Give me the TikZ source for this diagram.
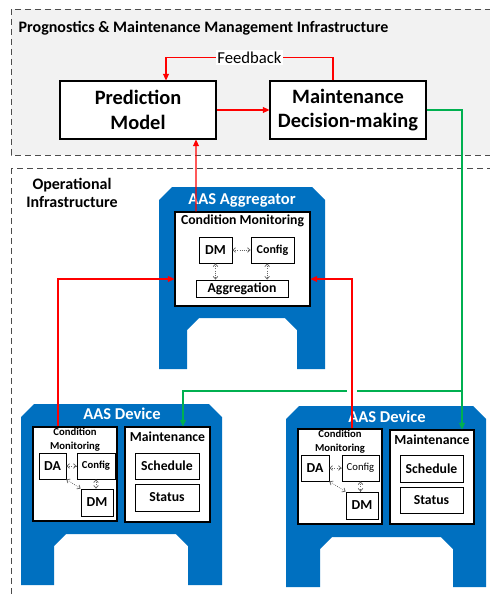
\documentclass[tikz,border=0pt]{standalone}
\usepackage{fontspec}
\setmainfont{Carlito}
\usetikzlibrary{arrows.meta, positioning}
\definecolor{aasblue}{RGB}{0,112,192}
\definecolor{fbred}{RGB}{255,0,0}
\definecolor{ctlgreen}{RGB}{0,176,80}
\definecolor{infragray}{RGB}{242,242,242}

% blue AAS body: left, top, right, bottom, inner left, inner right, inner top
\newcommand{\aasframe}[7]{%
	\fill[aasblue] (#1,#2+13) -- (#1+13,#2) -- (#3-13,#2) -- (#3,#2+13) -- (#3,#4)
		-- (#6,#4) -- (#6,#7+12) -- (#6-12,#7) -- (#5+12,#7) -- (#5,#7+12) -- (#5,#4)
		-- (#1,#4) -- cycle;}

\begin{document}
\begin{tikzpicture}[x=0.75pt, y=-0.75pt,
			sz/.style 2 args={minimum width=#1*0.75pt, minimum height=#2*0.75pt},
			zone/.style={draw=black!70, dash pattern=on 4.5pt off 3pt, line width=0.75pt},
			box/.style={draw, fill=white, line width=0.8pt, inner sep=0pt, align=center},
			sub/.style={draw, fill=white, line width=0.6pt, inner sep=0pt, font=\bfseries\fontsize{10.3}{12}\selectfont},
			small/.style={draw, fill=white, line width=0.6pt, inner sep=0pt, font=\bfseries\fontsize{8}{9}\selectfont},
			head/.style={font=\bfseries\fontsize{10.3}{11.5}\selectfont, align=center, inner sep=1pt},
			aastitle/.style={text=white, font=\bfseries\fontsize{12.4}{14}\selectfont},
			link/.style={{Straight Barb[length=2pt,width=3.5pt]}-{Straight Barb[length=2pt,width=3.5pt]}, densely dotted, black!60, line width=0.55pt},
			feed/.style={-{Triangle[length=5pt,width=4.5pt]}, fbred, line width=0.8pt},
			ctrl/.style={-{Triangle[length=5pt,width=4.5pt]}, ctlgreen, line width=0.8pt}]
	\useasboundingbox (0,0) rectangle (489,596);
	% infrastructure zones
	\draw[zone, fill=infragray] (11,9) rectangle (495,155);
	\draw[zone] (11,168) rectangle (495,605);
	\node[anchor=west, font=\bfseries\fontsize{12}{14}\selectfont] (pmtitle) at (14,28) {Prognostics \& Maintenance Management Infrastructure};
	\node[align=center, font=\bfseries\fontsize{12}{13.5}\selectfont] (optitle) at (72,193) {Operational\\Infrastructure};

	\node[box, font=\bfseries\fontsize{15.3}{18.5}\selectfont, sz={156}{58}] (pred) at (138,110) {Prediction\\Model};
	\node[box, font=\bfseries\fontsize{15.3}{18.5}\selectfont, sz={156}{58}] (decide) at (348,110) {Maintenance\\Decision-making};

	% AAS bodies
	\aasframe{159}{187}{325}{369}{187}{297}{318}
	\aasframe{21}{404}{222}{585}{54}{188}{534}
	\aasframe{286}{406}{486}{587}{320}{453}{537}
	\node[aastitle] (aggtitle) at (242,200) {AAS Aggregator};
	\node[aastitle] (ldevtitle) at (122,414) {AAS Device};
	\node[aastitle] (rdevtitle) at (387,417) {AAS Device};

	% aggregator
	\node[box, sz={135}{94}] (aggcm) at (242.5,259) {};
	\node[head, below=1pt of aggcm.north] (aggcmtitle) {Condition Monitoring};
	\node[sub, sz={33}{26}] (aggdm) at (215.5,250) {DM};
	\node[small, font=\bfseries\fontsize{9}{10}\selectfont, sz={43}{26}] (aggcfg) at (272.5,250) {Config};
	\node[sub, sz={92}{17}] (aggagg) at (242,288.5) {Aggregation};
	\draw[link] (aggdm) -- (aggcfg);
	\draw[link] (aggdm.south) -- (aggdm.south |- aggagg.north);
	\draw[link] ([xshift=-4pt]aggcfg.south) -- ([xshift=-4pt]aggcfg.south |- aggagg.north);

	% left device
	\node[box, sz={84}{94}] (lcm) at (75,474) {};
	\node[head, font=\bfseries\fontsize{8}{10.5}\selectfont, below=0pt of lcm.north] (lcmtitle) {Condition\\Monitoring};
	\node[sub, sz={27}{26}] (lda) at (52.5,466) {DA};
	\node[small, sz={38}{26}] (lcfg) at (96,466) {Config};
	\node[sub, sz={32}{27}] (ldm) at (97,502.5) {DM};
	\draw[link] (lda) -- (lcfg);
	\draw[link] (lcfg.south) -- (lcfg.south |- ldm.north);
	\draw[link] (lda.south east) -- (ldm.north west);
	\node[box, sz={85}{95}] (lmaint) at (167.5,474.5) {};
	\node[head, below=3pt of lmaint.north] (lmainttitle) {Maintenance};
	\node[sub, sz={64}{26}] (lsched) at (167,466) {Schedule};
	\node[sub, sz={64}{27}] (lstat) at (167,497.5) {Status};

	% right device
	\node[box, sz={84}{95}] (rcm) at (340,476.5) {};
	\node[head, font=\bfseries\fontsize{8}{10.5}\selectfont, below=0pt of rcm.north] (rcmtitle) {Condition\\Monitoring};
	\node[sub, sz={28}{26}] (rda) at (315,468) {DA};
	\node[small, font=\fontsize{8}{9}\selectfont, sz={37}{26}] (rcfg) at (360.5,468) {Config};
	\node[sub, sz={32}{27}] (rdm) at (362,505.5) {DM};
	\draw[link] (rda) -- (rcfg);
	\draw[link] (rcfg.south) -- (rcfg.south |- rdm.north);
	\draw[link] (rda.south east) -- (rdm.north west);
	\node[box, sz={84}{94}] (rmaint) at (432,477) {};
	\node[head, below=3pt of rmaint.north] (rmainttitle) {Maintenance};
	\node[sub, sz={63}{27}] (rsched) at (431.5,468.5) {Schedule};
	\node[sub, sz={63}{26}] (rstat) at (431.5,500) {Status};

	% connectors
	\draw[feed] (pred) -- (decide);
	\draw[feed] ([xshift=-11.25pt]decide.north) -- ++(0,-23)
		-| node[pos=0.25, fill=white, text=black, inner sep=1pt, font=\fontsize{12.5}{14}\selectfont] (fb) {Feedback} ([xshift=21pt]pred.north);
	\coordinate (gsplit) at (462,391);
	\draw[ctrl] (decide.east) -| (gsplit) -- (gsplit |- rmaint.north);
	\draw[ctrl] (gsplit) -| ([xshift=11.6pt]lmaint.north);
	\fill[white] (347,388) rectangle (357,394);
	\draw[feed] ([xshift=-34.9pt]aggcm.north) -- ([xshift=43.5pt]pred.south);
	\draw[feed] ([xshift=-12.75pt]lcm.north) |- ([yshift=-15pt]aggcm.west);
	\draw[feed] ([xshift=9pt]rcm.north) |- ([yshift=-15pt]aggcm.east);
\end{tikzpicture}
\end{document}
